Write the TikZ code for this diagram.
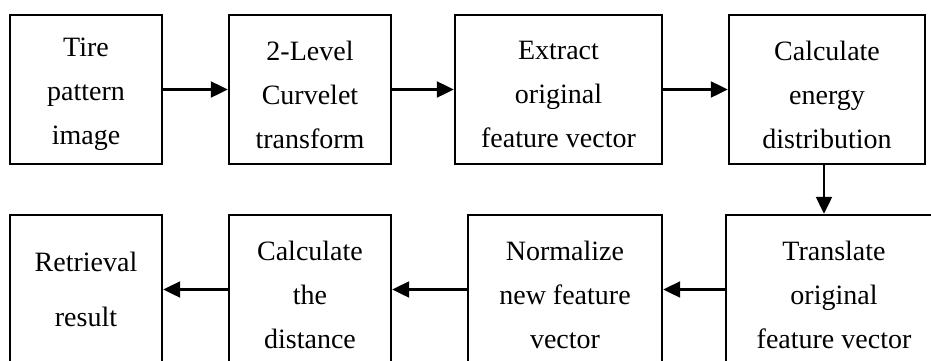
\documentclass[tikz,border=0pt]{standalone}
\usepackage{fontspec}
\setmainfont{Liberation Serif}
\usetikzlibrary{arrows.meta}
\begin{document}
\begin{tikzpicture}[x=0.5pt,y=-0.5pt,
  box/.style={draw=black, line width=1.2pt, inner sep=0pt, minimum height=74.5pt},
  txt/.style={inner sep=0pt, align=center, font=\fontsize{14pt}{22pt}\selectfont, yshift=-2.5pt},
  arr/.style={line width=1.1pt, -{Triangle[length=8.5pt,width=8pt]}}]
\useasboundingbox (0,0) rectangle (931,360);
\clip (0,0) rectangle (931,360);
\fill[white] (0,0) rectangle (931,360);
\node[box, minimum width=76pt]    (b1) at (86,89.5)    {};
\node[box, minimum width=81pt]    (b2) at (310,89.5)   {};
\node[box, minimum width=103.5pt] (b3) at (558.5,89.5) {};
\node[box, minimum width=98pt]    (b4) at (827,89.5)   {};
\node[box, minimum width=76pt]    (b5) at (86,289.5)   {};
\node[box, minimum width=81pt]    (b6) at (310,289.5)  {};
\node[box, minimum width=97pt]    (b7) at (565,289.5)  {};
\node[box, minimum width=108pt]   (b8) at (834,289.5)  {};
\node[txt] (t1) at (b1) {Tire\\pattern\\image};
\node[txt] (t2) at (b2) {2-Level\\Curvelet\\transform};
\node[txt] (t3) at (b3) {Extract\\original\\feature vector};
\node[txt] (t4) at (b4) {Calculate\\energy\\distribution};
\node[txt, yshift=2.5pt, font=\fontsize{14pt}{27.5pt}\selectfont] (t5) at (b5) {Retrieval\\result};
\node[txt] (t6) at (b6) {Calculate\\the\\distance};
\node[txt] (t7) at (b7) {Normalize\\new feature\\vector};
\node[txt] (t8) at (b8) {Translate\\original\\feature vector};
\draw[arr] (b1.east) -- (b2.west);
\draw[arr] (b2.east) -- (b3.west);
\draw[arr] (b3.east) -- (b4.west);
\draw[arr] ([xshift=-1.5pt]b4.south) -- ([xshift=-1.5pt]b4.south |- b8.north);
\draw[arr] (b8.west) -- (b7.east);
\draw[arr] (b7.west) -- (b6.east);
\draw[arr] (b6.west) -- (b5.east);
\end{tikzpicture}
\end{document}
